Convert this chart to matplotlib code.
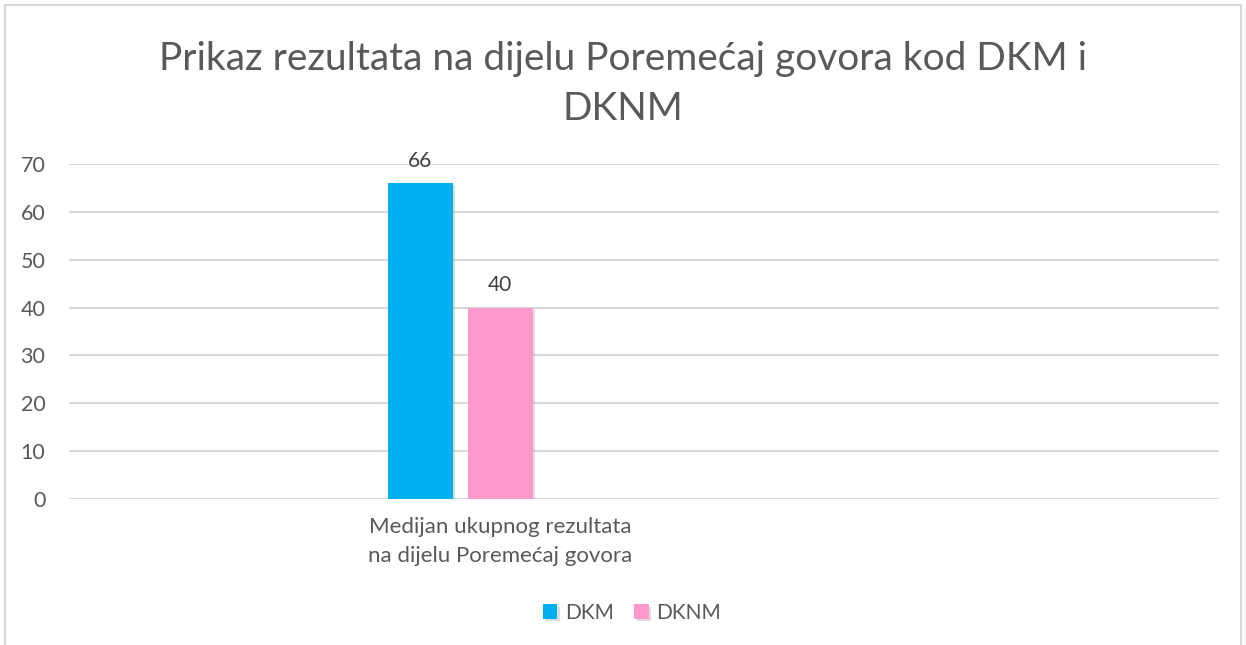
import matplotlib
matplotlib.use("Agg")
import matplotlib.pyplot as plt
from matplotlib import patheffects as pe
from matplotlib.patches import Rectangle

title = "Prikaz rezultata na dijelu Poremećaj govora kod DKM i\nDKNM"
categories = ["Medijan ukupnog rezultata\nna dijelu Poremećaj govora"]
series_names = ["DKM", "DKNM"]
series_values = [[66], [40]]
series_colors = ["#00B0F0", "#FF99CC"]
yticks = [0, 10, 20, 30, 40, 50, 60, 70]

plt.rcParams['font.family'] = ['Lato', 'DejaVu Sans']
TXT = "#595959"
GRID = "#D9D9D9"

W, H = 1246, 645
fig = plt.figure(figsize=(W / 100, H / 100), dpi=100)
fig.patches.append(Rectangle((5 / W, -0.01), (1241 - 5) / W, 1 - 5 / H + 0.01,
                             transform=fig.transFigure, fill=False,
                             edgecolor=GRID, linewidth=1.5))

ax_l, ax_r, y0, y70 = 69, 1219, 499, 164
ax = fig.add_axes([ax_l / W, 1 - y0 / H, (ax_r - ax_l) / W, (y0 - y70) / H])

px_per_unit = 225.0
cat_px = 500 - ax_l
ax.set_xlim(-cat_px / px_per_unit, (ax_r - ax_l - cat_px) / px_per_unit)
ax.set_ylim(0, 70)

bar_w = 65 / px_per_unit
offsets = [-80 / px_per_unit, 0.0]
x = list(range(len(categories)))
for name, vals, col, off in zip(series_names, series_values, series_colors, offsets):
    bars = ax.bar([xi + off for xi in x], vals, width=bar_w, color=col, label=name,
                  zorder=3,
                  path_effects=[pe.SimplePatchShadow(offset=(1.5, -1.5), alpha=0.25,
                                                     shadow_rgbFace="#7f7f7f"), pe.Normal()])
    for b, v in zip(bars, vals):
        ax.annotate(f"{v}", (b.get_x() + b.get_width() / 2, v), xytext=(0, 9),
                    textcoords="offset points", ha="center", va="bottom",
                    fontsize=15, color="#404040", clip_on=False)

ax.set_yticks(yticks)
ax.yaxis.grid(True, color=GRID, linewidth=1.5, zorder=0)
ax.set_axisbelow(True)
for s in ax.spines.values():
    s.set_visible(False)
ax.tick_params(axis='y', length=0, pad=17, labelsize=15.5, labelcolor=TXT)
ax.set_xticks(x)
ax.set_xticklabels(categories, fontsize=16, color=TXT, linespacing=1.55)
ax.tick_params(axis='x', length=0, pad=13)

fig.text(0.5, 1 - 84 / H, title, ha="center", va="center", fontsize=28,
         color=TXT, linespacing=1.5)

leg = fig.legend(loc="center", bbox_to_anchor=(632 / W, 1 - 613 / H), ncol=2,
                 frameon=False, fontsize=15, handlelength=0.7, handleheight=0.7,
                 handletextpad=0.35, columnspacing=1.0)
for t in leg.get_texts():
    t.set_color(TXT)

fig.savefig("out.png", dpi=100)
